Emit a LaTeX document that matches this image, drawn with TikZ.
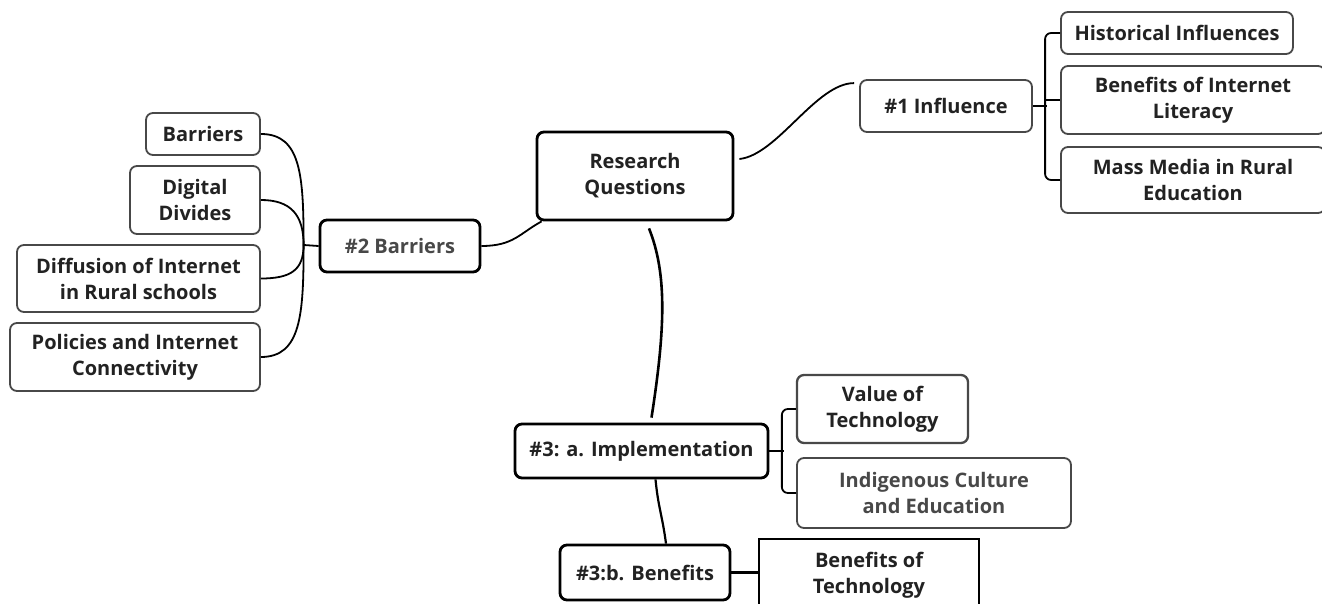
\documentclass[tikz,border=0pt]{standalone}
\usepackage{fontspec}
\setmainfont{Open Sans}
\usetikzlibrary{calc}
\definecolor{ink}{HTML}{222222}
\definecolor{soft}{HTML}{484848}
\tikzset{
  topic/.style={draw=soft, line width=1.8pt, rounded corners=7pt, align=center,
    inner sep=0pt, text=ink, font=\fontsize{20}{26}\selectfont\bfseries},
  hub/.style={topic, draw=black, line width=2.8pt},
  link/.style={line width=1.8pt, black},
  heavylink/.style={line width=2.6pt, black},
}
\begin{document}
\begin{tikzpicture}[x=1pt,y=-1pt]
\useasboundingbox (0,0) rectangle (1322,604);
\clip (0,0) rectangle (1322,604);
\fill[white] (0,0) rectangle (1322,604);

% central question and first-level topics
\node[hub, minimum width=196pt, minimum height=88pt] (rq) at (635,176) {Research\\Questions};
\node[topic, minimum width=172pt, minimum height=52pt] (infl) at (946,106) {\#1 Influence};
\node[hub, minimum width=160pt, minimum height=52pt, text=soft] (bar) at (400,246) {\#2 Barriers};
\node[hub, minimum width=253pt, minimum height=54pt] (impl) at (641.5,451) {\#3: a. Implementation};
\node[hub, minimum width=170pt, minimum height=55pt] (ben) at (645,572.5) {\#3:b. Benefits};

% influence branch
\node[topic, minimum width=232pt, minimum height=42pt] (hist) at (1177,33) {Historical Influences};
\node[topic, minimum width=264pt, minimum height=68pt] (bil) at (1193,100) {Benefits of Internet\\Literacy};
\node[topic, minimum width=264pt, minimum height=66pt] (mm) at (1193,180) {Mass Media in Rural\\Education};

% barriers branch
\node[topic, minimum width=114pt, minimum height=42pt] (b1) at (203,134) {Barriers};
\node[topic, minimum width=130pt, minimum height=68pt] (b2) at (195,200) {Digital\\Divides};
\node[topic, minimum width=243pt, minimum height=67pt] (b3) at (138.5,278.5) {Diffusion of Internet\\in Rural schools};
\node[topic, minimum width=250pt, minimum height=68pt] (b4) at (135,357) {Policies and Internet\\Connectivity};

% implementation branch
\node[topic, line width=2.3pt, minimum width=171pt, minimum height=68pt] (val) at (882.5,409) {Value of\\Technology};
\node[topic, minimum width=274pt, minimum height=70pt, text=soft] (ind) at (934,493) {Indigenous Culture\\and Education};

% benefits branch
\node[hub, rounded corners=0pt, minimum width=220pt, minimum height=72pt] (bot) at (869,575) {Benefits of\\Technology};

% connectors from the central question
\draw[link] ([xshift=5pt,yshift=17pt]rq.east) .. controls +(38,-4) and +(-38,0) .. ([xshift=-5pt,yshift=-4pt]infl.north west);
\draw[link] (bar.east) .. controls +(32,0) and +(-22,12) .. ([xshift=6pt]rq.south west);
\draw[heavylink] ([xshift=14pt,yshift=-7pt]rq.south) .. controls +(18,45) and +(14,-90) .. ([xshift=10pt,yshift=5pt]impl.north);
\draw[link, line width=2.2pt] ([xshift=14pt]impl.south) .. controls +(3,30) and +(-4,-30) .. ([xshift=21pt]ben.north);

% bracket of the influence branch
\coordinate (ij) at ($(infl.east)+(14,0)$);
\draw[link] (infl.east) -- (ij);
\draw[link, rounded corners=6pt] (hist.west) -- ++(-15,0) |- (mm.west);
\draw[link] (bil.west) -- ++(-15,0);

% fan of the barriers branch
\coordinate (bj) at ($(bar.west)+(-15,-1)$);
\draw[link] (bar.west) -- (bj);
\draw[link] (b1.east) .. controls +(40,0) and +(0,-70) .. (bj);
\draw[link] (b2.east) .. controls +(30,0) and +(0,-30) .. (bj);
\draw[link] (b3.east) .. controls +(30,0) and +(0,25) .. (bj);
\draw[link] (b4.east) .. controls +(40,0) and +(0,70) .. (bj);

% bracket of the implementation branch
\draw[link] (impl.east) -- ++(15,0);
\draw[link, rounded corners=6pt] (val.west) -- ++(-14,0) |- (ind.west);

% benefits link
\draw[heavylink] (ben.east) -- (ben.east -| bot.west);
\end{tikzpicture}
\end{document}
